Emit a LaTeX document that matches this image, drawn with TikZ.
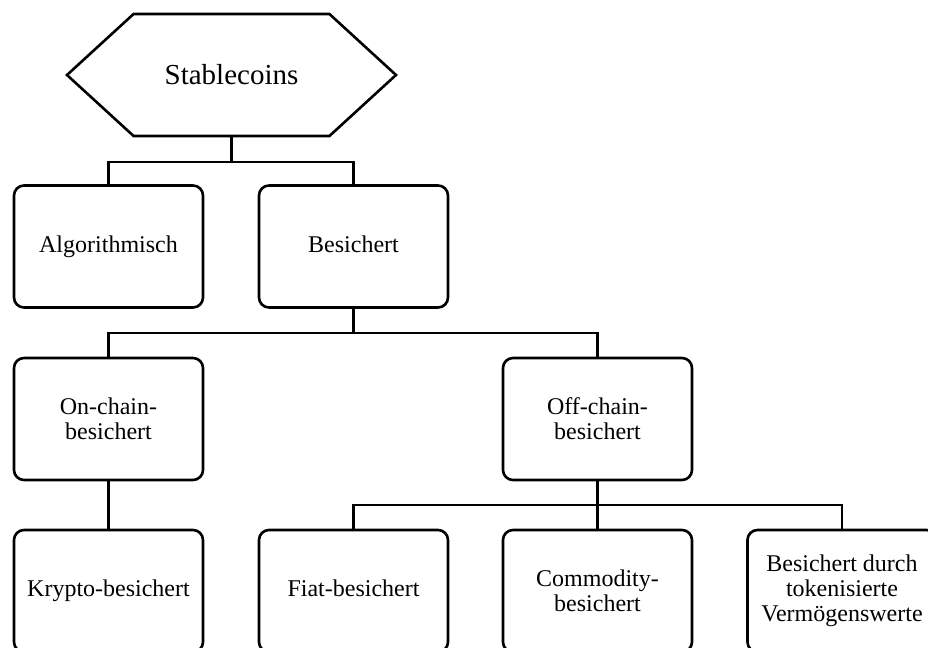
\documentclass[tikz,border=0pt]{standalone}
\usepackage{fontspec}
\setmainfont{Liberation Serif}
\usetikzlibrary{shapes.symbols}

\begin{document}
\begin{tikzpicture}[x=0.5pt, y=-0.5pt, line width=1.3pt,
  box/.style={draw, rounded corners=5pt, minimum width=94.5pt, minimum height=61pt, align=center, font=\fontsize{12}{12.5}\selectfont},
  oneline/.style={box, text height=8pt, text depth=2.5pt}]
\useasboundingbox (0,0) rectangle (928,648);
\clip (0,0) rectangle (928,648);

\node[draw, signal, signal to=west and east, signal pointer angle=85, minimum width=164.5pt, minimum height=61pt, font=\fontsize{14.5}{16}\selectfont] (root) at (231.5, 75) {Stablecoins};

\node[oneline] (algo) at (108.5, 246.5) {Algorithmisch};
\node[oneline] (besichert) at (353.5, 246.5) {Besichert};

\node[box] (onchain) at (108.5, 419) {On-chain-\\besichert};
\node[box] (offchain) at (597.5, 419) {Off-chain-\\besichert};

\node[oneline] (krypto) at (108.5, 591) {Krypto-besichert};
\node[oneline] (fiat) at (353.5, 591) {Fiat-besichert};
\node[box] (commodity) at (597.5, 591) {Commodity-\\besichert};
\node[box] (token) at (842, 591) {Besichert durch\\tokenisierte\\Vermögenswerte};

% level 1
\draw (root.south) -- (root.south |- 0,162) -| (algo.north);
\draw (root.south |- 0,162) -| (besichert.north);

% level 2
\draw (besichert.south) -- (besichert.south |- 0,333) -| (onchain.north);
\draw (besichert.south |- 0,333) -| (offchain.north);

% level 3
\draw (onchain) -- (krypto);
\draw (offchain.south) -- (offchain.south |- 0,505) -| (fiat.north);
\draw (offchain.south |- 0,505) -- (commodity.north);
\draw (offchain.south |- 0,505) -| (token.north);

\end{tikzpicture}
\end{document}
